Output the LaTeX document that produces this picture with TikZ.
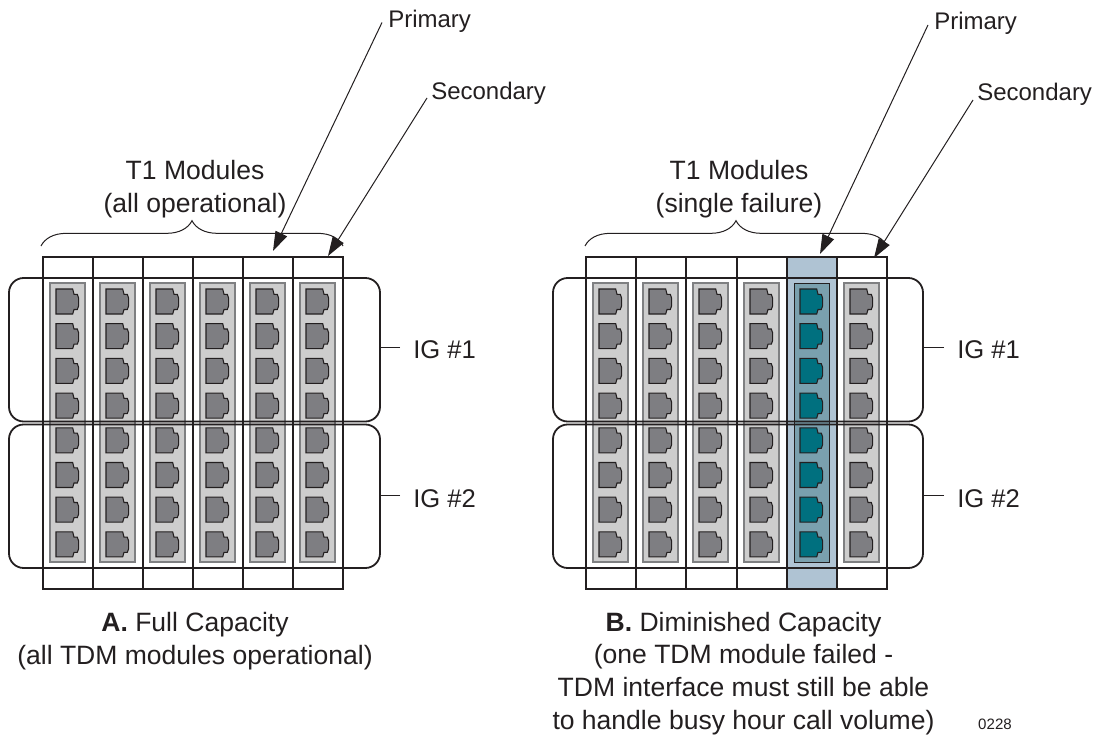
\documentclass[tikz,border=0pt]{standalone}
\usepackage{fontspec}
\setmainfont{Liberation Sans}
\usetikzlibrary{arrows.meta,positioning,calc,decorations.pathreplacing}

\definecolor{inkline}{HTML}{231F20}
\definecolor{modgray}{HTML}{CDCDCD}
\definecolor{modedge}{HTML}{7F8082}
\definecolor{jackgray}{HTML}{7E7E82}
\definecolor{failcol}{HTML}{AFC3D3}
\definecolor{failmod}{HTML}{7AA0AE}
\definecolor{failjack}{HTML}{00707F}

\tikzset{
    cell/.style={draw=inkline, line width=0.95pt},
    igbox/.style={draw=inkline, line width=1.35pt, rounded corners=11pt},
    igline/.style={draw=inkline, line width=0.7pt},
    callout/.style={draw=inkline, line width=0.75pt, -{Triangle[length=14.5pt,width=9.5pt]}},
    curly/.style={draw=inkline, line width=0.75pt, decorate, decoration={brace, amplitude=19pt}},
    tag/.style={inner sep=0pt, anchor=base west, font=\fontsize{18}{24}\selectfont, text=inkline},
    igtag/.style={tag, font=\fontsize{19.2}{24}\selectfont},
    caption/.style={inner sep=0pt, anchor=base, align=center, font=\fontsize{19.9}{24.4}\selectfont, text=inkline},
    pics/jack/.style={code={
        \draw[draw=inkline, fill=#1, line width=0.8pt]
            (0,-12.5) -- (16.7,-12.5) -- (18,-7.2) -- (21.3,-7.2) -- (22.7,-3.2) -- (22.7,4.2) -- (21.3,8)
            -- (18,8) -- (16.7,12.5) -- (0,12.5) -- cycle;
    }}
}

\begin{document}
\begin{tikzpicture}[x=0.75pt, y=-0.75pt]
    \useasboundingbox (0,0) rectangle (1097,735);

    % A: full capacity
    \draw[cell] (43,257) rectangle (343,589);
    \foreach \xc in {93,143,193,243,293} {
        \draw[cell] (\xc,257) -- (\xc,589);
    }
    \foreach \xc in {50,100,150,200,250,300} {
        \draw[draw=modedge, fill=modgray, line width=0.8pt] (\xc,283) rectangle ++(35,279);
        \foreach \yc in {301.5,336.2,370.9,405.6,440.3,475,509.7,544.4} {
            \pic at ($(\xc,\yc)+(6,0)$) {jack=jackgray};
        }
    }
    \draw[igbox] (9,278) rectangle (380,421.5);
    \draw[igbox] (9,424.5) rectangle (380,568);

    % B: one module failed
    \fill[failcol] (787,257) rectangle (837,589);
    \draw[cell] (586,257) rectangle (887,589);
    \foreach \xc in {636,686,737,787,837} {
        \draw[cell] (\xc,257) -- (\xc,589);
    }
    \foreach \xc in {593,643,693,744,844} {
        \draw[draw=modedge, fill=modgray, line width=0.8pt] (\xc,283) rectangle ++(35,279);
        \foreach \yc in {301.5,336.2,370.9,405.6,440.3,475,509.7,544.4} {
            \pic at ($(\xc,\yc)+(6,0)$) {jack=jackgray};
        }
    }
    \draw[draw=inkline, fill=failmod, line width=0.5pt] (794,283) rectangle ++(35,279);
    \foreach \yc in {301.5,336.2,370.9,405.6,440.3,475,509.7,544.4} {
        \pic at (800,\yc) {jack=failjack};
    }
    \draw[igbox] (553,278) rectangle (923,421.5);
    \draw[igbox] (553,424.5) rectangle (923,568);

    % braces
    \coordinate (braceAl) at (41,246);
    \coordinate (braceAr) at (343,246);
    \coordinate (braceBl) at (585,246);
    \coordinate (braceBr) at (887,246);
    \draw[curly] (braceAl) -- (braceAr);
    \draw[curly] (braceBl) -- (braceBr);

    % labels
    \node[caption] (modulesA) at (195,212) {T1 Modules\\(all operational)};
    \node[caption] (modulesB) at (739,212) {T1 Modules\\(single failure)};
    \node[tag] (primaryA) at (388,27.5) {Primary};
    \node[tag] (secondaryA) at (431,99) {Secondary};
    \node[tag] (primaryB) at (934,29.5) {Primary};
    \node[tag] (secondaryB) at (977,101) {Secondary};
    \node[igtag] (igAa) at (413,358) {IG \#1};
    \node[igtag] (igAb) at (413,507) {IG \#2};
    \node[igtag] (igBa) at (957,358) {IG \#1};
    \node[igtag] (igBb) at (957,507) {IG \#2};
    \node[caption] (capA) at (195,664) {\textbf{A.} Full Capacity\\(all TDM modules operational)};
    \node[caption] (capB) at (743.5,729) {\textbf{B.} Diminished Capacity\\(one TDM module failed -\\TDM interface must still be able\\to handle busy hour call volume)};
    \node[inner sep=0pt, anchor=base, font=\fontsize{11.3}{13}\selectfont, text=inkline] (figno) at (995,729) {0228};

    % callouts
    \coordinate (tipPa) at (273,251);
    \coordinate (tipSa) at (328,256);
    \coordinate (tipPb) at (820,254);
    \coordinate (tipSb) at (874,258);
    \draw[callout] (primaryA.base west) ++(-6,-5) -- (tipPa);
    \draw[callout] (secondaryA.base west) ++(-4,-1) -- (tipSa);
    \draw[callout] (primaryB.base west) ++(-6,-4.5) -- (tipPb);
    \draw[callout] (secondaryB.base west) ++(-4,-1) -- (tipSb);

    % IG leaders
    \draw[igline] (igAa.base west) ++(-13,-11) -- (380,347);
    \draw[igline] (igAb.base west) ++(-13,-12) -- (380,495);
    \draw[igline] (igBa.base west) ++(-13,-11) -- (923,347);
    \draw[igline] (igBb.base west) ++(-13,-12) -- (923,495);
\end{tikzpicture}
\end{document}
